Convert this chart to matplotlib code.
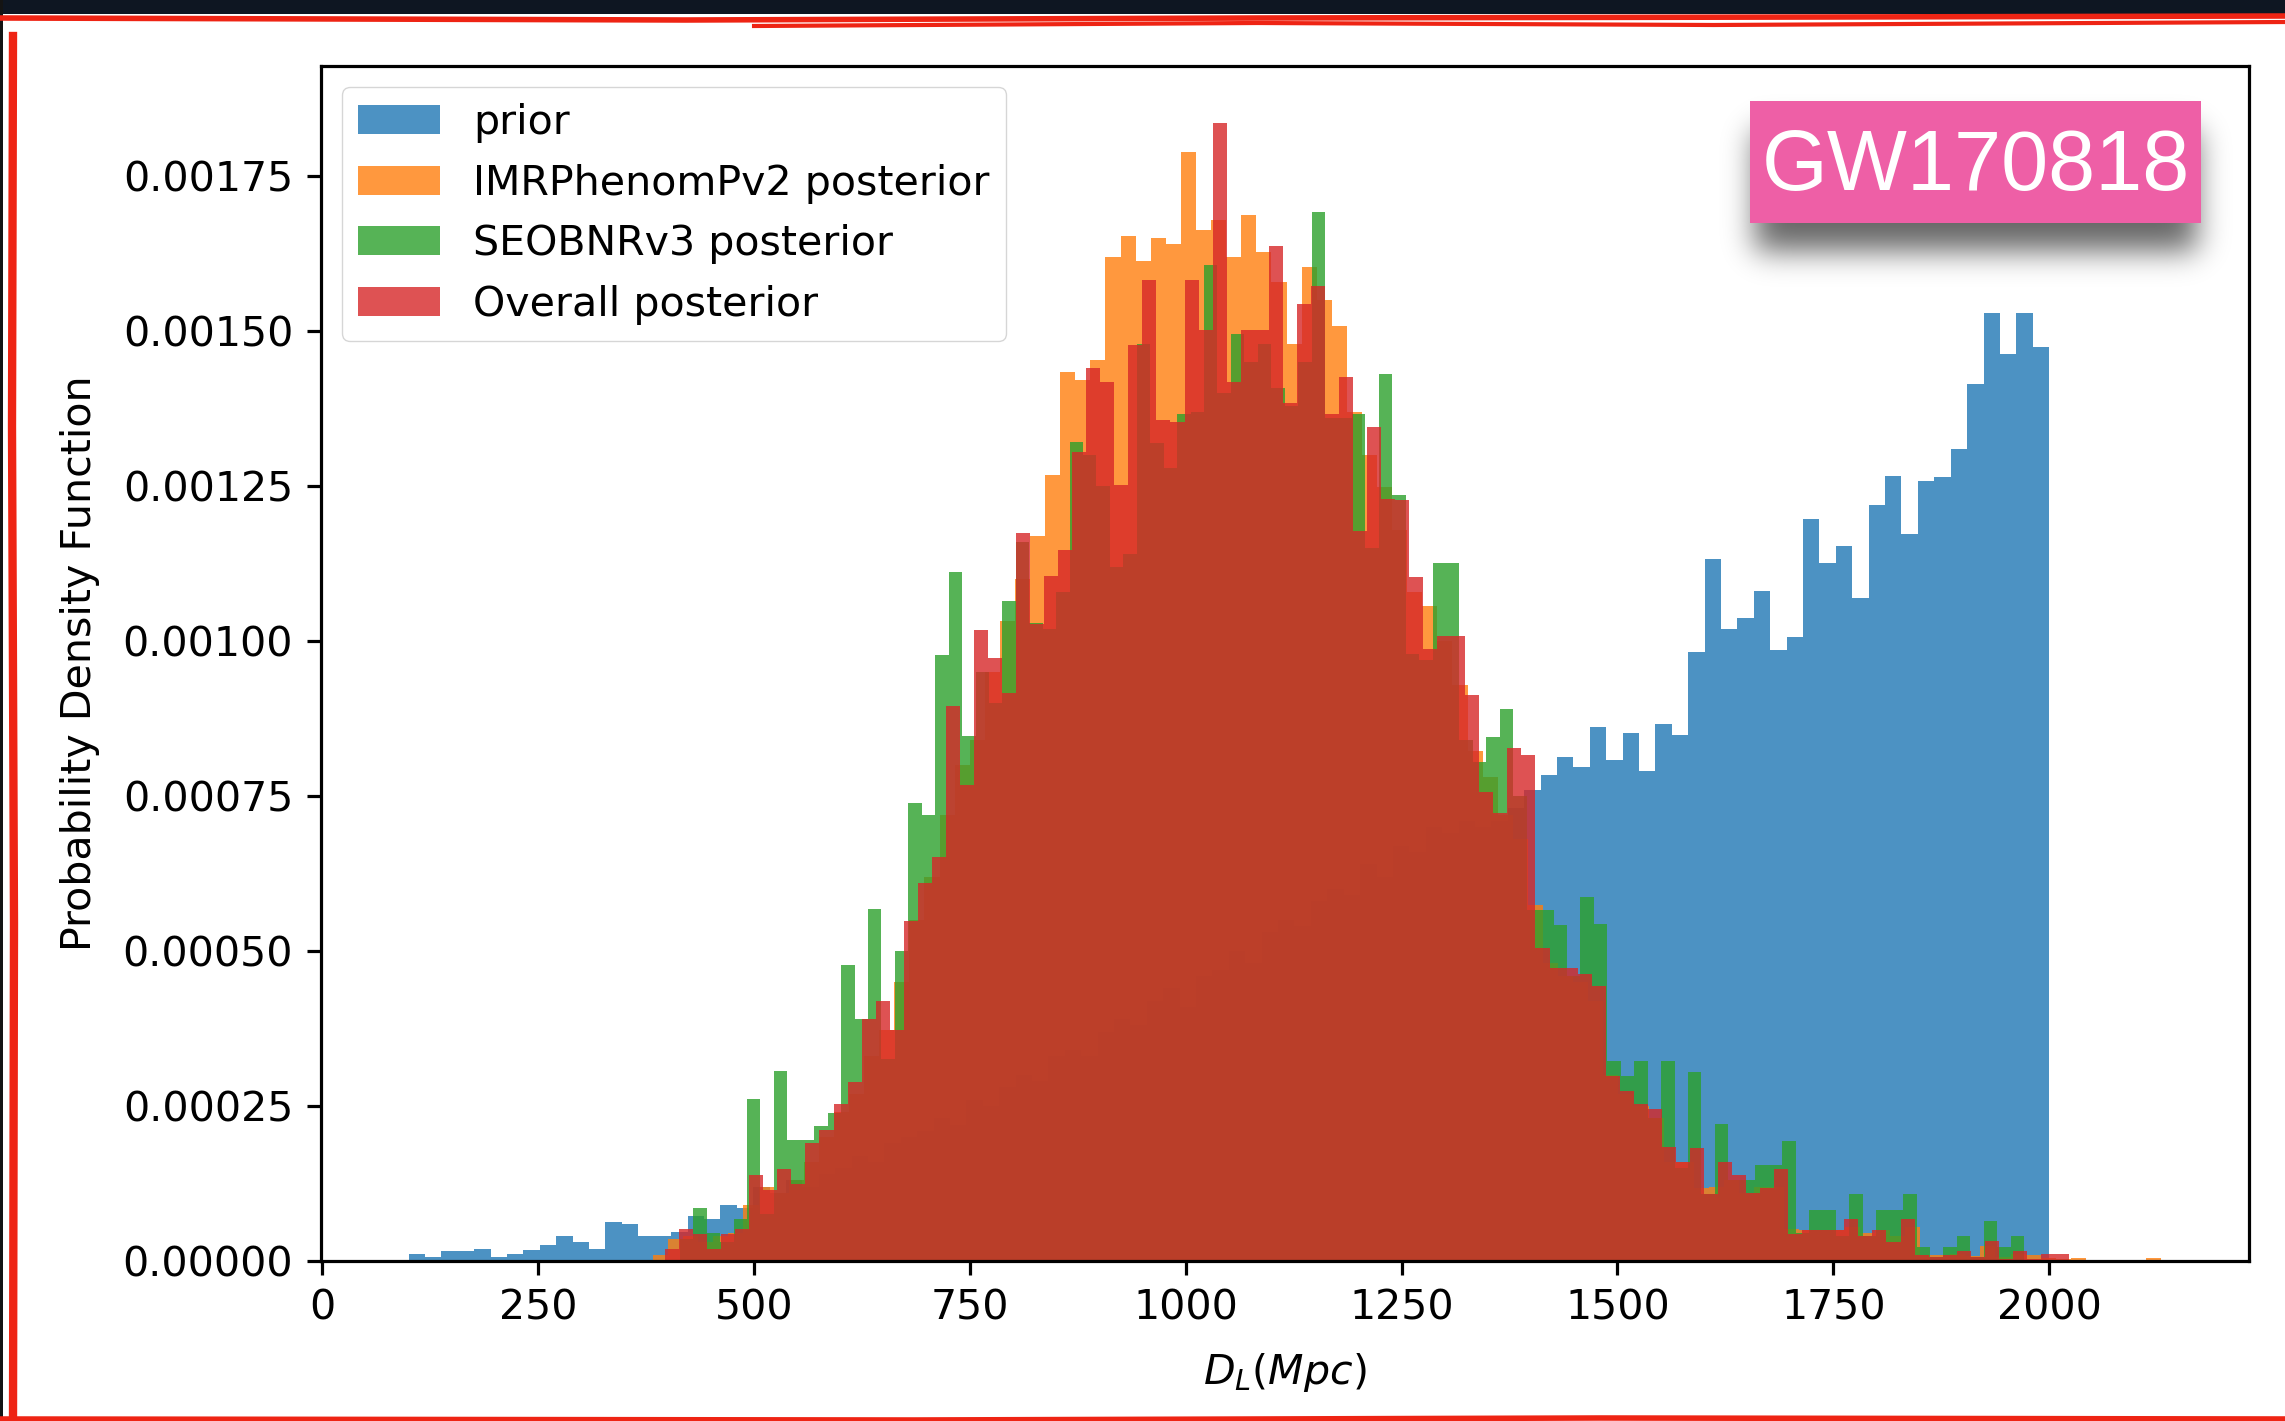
import numpy as np
import matplotlib
matplotlib.use("Agg")
import matplotlib.pyplot as plt
from matplotlib.patches import Rectangle
from matplotlib.ticker import FormatStrFormatter, MultipleLocator

# luminosity distance histograms (density, in units of 1e-5 per Mpc)
prior_range = (100, 2000)
prior_pdf = [1.1, 0.65, 1.66, 1.66, 2.0, 0.65, 1.2, 1.7, 2.6, 4.0,
             3.1, 2.0, 6.3, 5.9, 4.0, 4.0, 4.6, 7.3, 6.7, 9.1,
             8.5, 12.0, 11, 13, 12, 14, 15, 17, 16, 19,
             20, 21, 23, 22, 26, 25, 28, 30, 29, 33,
             34, 33, 37, 39, 38, 42, 44, 41, 46, 47,
             50, 48, 53, 55, 54, 58, 60, 59, 64, 62,
             67, 66, 70, 69, 71, 70, 71, 73, 76, 78.4,
             81.3, 79.7, 86.1, 80.9, 85.2, 79.1, 86.7, 84.9, 98.2, 113.2,
             101.9, 103.8, 108.1, 98.6, 100.7, 119.7, 112.6, 115.3, 106.9, 122.0,
             126.7, 117.3, 125.9, 126.4, 131.0, 141.5, 152.9, 146.3, 152.9, 147.4]

imr_range = (383, 2130)
imr_pdf = [1.0, 3.5, 4.0, 3.0, 4.0, 4.5, 9.0, 12.0, 11.0, 13.0,
           16.0, 20.0, 24.0, 27.0, 33.0, 37.3, 45.0, 55.0, 62.0, 72.0,
           80.0, 84.0, 95.0, 103.3, 110.0, 116.9, 126.8, 143.4, 142.2, 145.3,
           162.0, 165.3, 161.3, 165.0, 164.0, 178.9, 166.3, 168.0, 162.0, 168.8,
           162.7, 158.0, 147.9, 160.3, 155.0, 150.8, 137.0, 130.0, 124.8, 118.0,
           108.0, 105.6, 100.0, 93.0, 82.2, 78.0, 72.0, 68.0, 57.4, 48.0,
           46.0, 45.0, 42.0, 30.0, 27.0, 25.0, 23.0, 16.0, 16.0, 11.8,
           12.0, 13.0, 11.0, 12.0, 12.0, 5.2, 5.0, 5.0, 5.0, 5.5,
           4.5, 5.0, 4.0, 5.5, 1.0, 1.0, 1.2, 0.8, 2.5, 0.6,
           1.2, 0.9, 0.5, 0.4, 0.5, 0.0, 0.0, 0.0, 0.0, 0.5]

seob_range = (414, 1971)
seob_pdf = [3.5, 8.5, 4.5, 3.0, 6.8, 26.2, 7.6, 30.6, 19.5, 19.5,
            21.8, 23.8, 47.7, 39.0, 56.8, 32.6, 50.0, 73.9, 72.0, 97.7,
            111.1, 84.7, 95.0, 90.0, 106.4, 116.0, 103.0, 102.0, 108.0, 132.1,
            130.0, 125.0, 112.0, 114.0, 148.0, 132.0, 128.0, 136.7, 137.0, 160.7,
            140.0, 149.6, 145.0, 148.0, 140.8, 138.0, 145.0, 169.2, 136.0, 136.0,
            136.6, 115.0, 143.1, 123.6, 98.0, 97.0, 112.6, 112.6, 84.0, 80.5,
            84.6, 89.1, 75.0, 56.7, 56.6, 54.2, 46.0, 58.7, 54.4, 32.3,
            29.9, 32.3, 23.0, 32.3, 15.0, 30.5, 10.8, 22.1, 13.0, 13.0,
            15.5, 15.5, 19.4, 4.5, 8.2, 8.2, 4.0, 10.8, 4.0, 8.2,
            8.2, 10.8, 2.2, 0.6, 2.2, 4.1, 0.6, 6.5, 2.2, 4.1]

overall_range = (397, 2023)
overall_pdf = [2.0, 5.2, 4.3, 2.0, 4.3, 5.2, 13.9, 11.4, 14.8, 12.5,
               19.1, 21.1, 25.3, 28.8, 39.0, 42.0, 37.3, 54.8, 61.0, 65.2,
               89.6, 76.8, 101.8, 97.2, 91.6, 117.5, 102.7, 110.5, 114.7, 130.5,
               144.1, 141.8, 125.2, 147.8, 158.3, 135.7, 135.4, 158.3, 150.2, 183.6,
               141.8, 150.2, 150.2, 163.8, 138.4, 154.4, 157.3, 136.6, 142.6, 117.7,
               134.5, 123.0, 122.7, 110.4, 98.8, 100.9, 100.9, 91.3, 75.7, 72.2,
               82.8, 81.6, 50.5, 47.2, 47.2, 46.3, 44.3, 29.9, 27.4, 25.3,
               24.5, 18.4, 15.9, 18.2, 10.8, 15.9, 13.8, 10.9, 11.8, 14.9,
               4.4, 5.0, 5.0, 5.0, 6.8, 4.1, 5.0, 3.0, 6.8, 0.9,
               0.6, 0.9, 1.6, 0.6, 3.2, 0.3, 1.6, 0.3, 1.1, 1.1]

labels = ["prior", "IMRPhenomPv2 posterior", "SEOBNRv3 posterior", "Overall posterior"]

FS = 29.6
plt.rcParams.update({
    "font.size": FS,
    "axes.linewidth": 2.3,
    "xtick.major.size": 10, "ytick.major.size": 10,
    "xtick.major.width": 2.3, "ytick.major.width": 2.3,
    "xtick.major.pad": 10, "ytick.major.pad": 10,
})

W, H = 2285, 1421
fig = plt.figure(figsize=(W / 100, H / 100), dpi=100)
fig.patch.set_facecolor("white")

ax = fig.add_axes([321 / W, 1 - 1261 / H, (2249 - 321) / W, (1261 - 66) / H])

series = [(prior_range, prior_pdf), (imr_range, imr_pdf),
          (seob_range, seob_pdf), (overall_range, overall_pdf)]
for i, ((lo, hi), pdf) in enumerate(series):
    edges = np.linspace(lo, hi, len(pdf) + 1)
    ax.hist(edges[:-1], bins=edges, weights=np.array(pdf) * 1e-5,
            alpha=0.8, color="C%d" % i, label=labels[i])

ax.xaxis.set_major_locator(MultipleLocator(250))
ax.yaxis.set_major_locator(MultipleLocator(0.00025))
ax.yaxis.set_major_formatter(FormatStrFormatter("%.5f"))
ax.set_xlabel("$D_L(Mpc)$", fontsize=FS, labelpad=16)
ax.set_ylabel("Probability Density Function", fontsize=FS, labelpad=16)
ax.legend(loc="upper left", fontsize=FS)

# event tag with a soft drop shadow
bx0, bx1, by0, by1 = 1750, 2201, H - 223, H - 101
pad = 70
sw, sh = (bx1 - bx0) + 2 * pad, (by1 - by0) + 2 * pad
xs = np.arange(sw) - pad
ys = np.arange(sh) - pad
k = np.exp(-0.5 * (np.arange(-45, 46) / 15.0) ** 2)
k /= k.sum()
px = np.convolve(((xs >= 5) & (xs <= bx1 - bx0 - 5)).astype(float), k, mode="same")
py = np.convolve(((ys >= -28) & (ys <= by1 - by0 - 30)).astype(float), k, mode="same")
alpha = 0.6 * np.outer(py[::-1], px)
shadow = np.zeros((sh, sw, 4))
shadow[..., 3] = alpha
fig.figimage(shadow, xo=bx0 - pad, yo=by0 - pad, zorder=5)
fig.add_artist(Rectangle((bx0 / W, by0 / H), (bx1 - bx0) / W, (by1 - by0) / H,
                         transform=fig.transFigure, facecolor="#ee5fa6",
                         edgecolor="none", zorder=6))
fig.text((bx0 + bx1) / 2 / W, (by0 + by1) / 2 / H - 0.0045, "GW170818",
         family="Liberation Sans", fontsize=61, color="white",
         ha="center", va="center", zorder=7)

# slide frame: dark strip on top, red brush strokes along the edges
fig.add_artist(Rectangle((0, 1 - 14 / H), 1, 14 / H, transform=fig.transFigure,
                         facecolor="#0e1622", edgecolor="none", zorder=8))
fig.add_artist(Rectangle((0, 0), 3 / W, 1, transform=fig.transFigure,
                         facecolor="#141414", edgecolor="none", zorder=8))
red = "#ee2414"
fig.add_artist(plt.Line2D([0, 0.3, 0.55, 0.8, 1.0],
                          [1 - 18 / H, 1 - 20 / H, 1 - 18 / H, 1 - 17 / H, 1 - 16 / H],
                          transform=fig.transFigure, color=red, lw=4, zorder=9))
fig.add_artist(plt.Line2D([0.33, 0.55, 0.75, 1.0],
                          [1 - 26 / H, 1 - 23 / H, 1 - 25 / H, 1 - 22 / H],
                          transform=fig.transFigure, color=red, lw=3, zorder=9))
fig.add_artist(plt.Line2D([13 / W, 14 / W, 12 / W, 13 / W],
                          [0, 0.35, 0.7, 1 - 36 / H],
                          transform=fig.transFigure, color=red, lw=6, zorder=9))
fig.add_artist(plt.Line2D([0, 0.4, 0.7, 1.0], [2 / H, 1 / H, 3 / H, 2 / H],
                          transform=fig.transFigure, color=red, lw=4, zorder=9))

fig.savefig("out.png", dpi=100)
